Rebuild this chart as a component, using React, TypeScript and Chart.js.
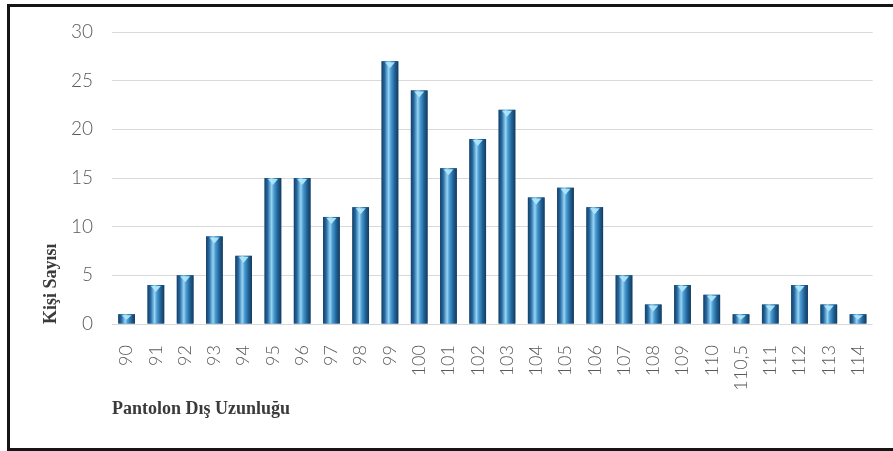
import React, { useEffect, useRef } from "react";
import { Chart, registerables } from "chart.js";

Chart.register(...registerables);

const categories = ["90","91","92","93","94","95","96","97","98","99","100","101","102","103","104","105","106","107","108","109","110","110,5","111","112","113","114"];
const counts = [1,4,5,9,7,15,15,11,12,27,24,16,19,22,13,14,12,5,2,4,3,1,2,4,2,1];
const yTicks = [0,5,10,15,20,25,30];
const xTitle = "Pantolon Dış Uzunluğu";
const yTitle = "Kişi Sayısı";

const cylinderPlugin = {
  id: "cylinder",
  afterDatasetsDraw(chart: any) {
    const ctx = chart.ctx;
    const meta = chart.getDatasetMeta(0);
    meta.data.forEach((el: any) => {
      const { x, y, base, width } = el.getProps(["x", "y", "base", "width"], true);
      const l = x - width / 2;
      const r = x + width / 2;
      const g = ctx.createLinearGradient(l, 0, r, 0);
      g.addColorStop(0, "#173f63");
      g.addColorStop(0.18, "#2467a0");
      g.addColorStop(0.42, "#97d5f4");
      g.addColorStop(0.56, "#4a9bd2");
      g.addColorStop(0.8, "#1f5f93");
      g.addColorStop(1, "#143a5c");
      ctx.save();
      ctx.fillStyle = g;
      ctx.fillRect(l, y, width, base - y);
      const capH = Math.min(7, (base - y) * 0.6);
      ctx.fillStyle = "rgba(175,230,250,0.95)";
      ctx.beginPath();
      ctx.moveTo(l + width * 0.2, y + 1);
      ctx.lineTo(r - width * 0.2, y + 1);
      ctx.lineTo(x, y + capH);
      ctx.closePath();
      ctx.fill();
      ctx.restore();
    });
  },
};

export default function App() {
  const ref = useRef<HTMLCanvasElement>(null);
  useEffect(() => {
    if (!ref.current) return;
    const chart = new Chart(ref.current, {
      type: "bar",
      data: {
        labels: categories,
        datasets: [
          {
            data: counts,
            backgroundColor: "#2467a0",
            borderWidth: 0,
            barPercentage: 0.57,
            categoryPercentage: 1,
          },
        ],
      },
      options: {
        responsive: false,
        animation: false,
        layout: { padding: { left: 0, top: 32, right: 18, bottom: 0 } },
        plugins: { legend: { display: false }, tooltip: { enabled: false } },
        scales: {
          x: {
            grid: { display: false },
            border: { display: false },
            ticks: {
              maxRotation: 90,
              minRotation: 90,
              padding: 13,
              color: "#5a5a5a",
              font: { family: "Lato", size: 18, weight: "300" },
            },
            title: {
              display: true,
              text: xTitle,
              align: "start",
              color: "#3a3a3a",
              font: { family: "Liberation Serif", size: 18, weight: "bold" },
              padding: { top: 0, bottom: 31 },
            },
            afterFit(scale: any) {
              scale.height = 127;
            },
          },
          y: {
            min: 0,
            max: 30,
            afterBuildTicks(scale: any) {
              scale.ticks = yTicks.map((v) => ({ value: v }));
            },
            grid: { color: "#d9d9d9", lineWidth: 1, drawTicks: false },
            border: { display: false },
            ticks: {
              padding: 19,
              color: "#5a5a5a",
              font: { family: "Lato", size: 19, weight: "300" },
            },
            title: {
              display: true,
              text: yTitle,
              align: "start",
              color: "#3a3a3a",
              font: { family: "Liberation Serif", size: 18, weight: "bold" },
              padding: { top: 41, bottom: 0 },
            },
            afterFit(scale: any) {
              scale.width = 112;
            },
          },
        },
      },
      plugins: [cylinderPlugin],
    });
    return () => chart.destroy();
  }, []);
  return (
    <div style={{ position: "absolute", left: 0, top: 0, width: 893, height: 451, background: "#fff", overflow: "hidden" }}>
      <canvas ref={ref} width={893} height={451} style={{ position: "absolute", left: 0, top: 0 }} />
      <div
        style={{
          position: "absolute",
          left: 7,
          top: 4,
          width: 920,
          height: 447,
          border: "3px solid #151515",
          boxSizing: "border-box",
          pointerEvents: "none",
        }}
      />
    </div>
  );
}
